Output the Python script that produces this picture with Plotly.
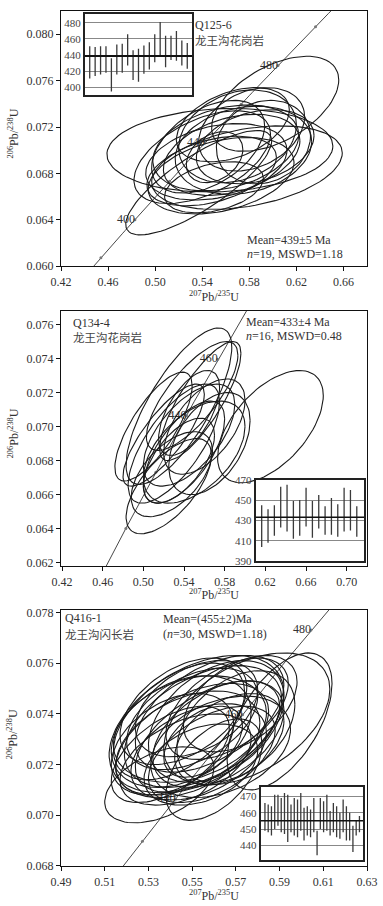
import numpy as np
import plotly.graph_objects as go

#-------------------------------------------------------------------------------------------
# decay constants used for the concordia curve
L238 = 1.55125e-10
L235 = 9.8485e-10

SERIF = "Liberation Serif"
CJK = "Noto Sans CJK SC"

#-------------------------------------------------------------------------------------------
# Q125-6 (panel 1): ellipse centres, half widths, error correlation
q125_x = [0.537, 0.555, 0.578, 0.602, 0.560, 0.565, 0.552, 0.548, 0.570, 0.582,
          0.556, 0.575, 0.545, 0.550, 0.585, 0.566, 0.592, 0.540, 0.5505]
q125_y = [0.0672, 0.0700, 0.0685, 0.0740, 0.0702, 0.0696, 0.0690, 0.0682, 0.0712, 0.0718,
          0.0678, 0.0700, 0.0703, 0.0668, 0.0703, 0.0722, 0.0707, 0.0694, 0.0694]
q125_sx = [0.062, 0.096, 0.081, 0.054, 0.062, 0.058, 0.060, 0.055, 0.050, 0.045,
           0.062, 0.058, 0.048, 0.042, 0.050, 0.048, 0.040, 0.058, 0.024]
q125_sy = [0.0045, 0.0036, 0.0036, 0.0041, 0.0037, 0.0035, 0.0033, 0.0030, 0.0040, 0.0036,
           0.0033, 0.0038, 0.0040, 0.0022, 0.0032, 0.0032, 0.0036, 0.0040, 0.0022]
q125_rho = [0.80, 0.10, 0.35, 0.50, 0.30, 0.35, 0.30, 0.40, 0.25, 0.30,
            0.35, 0.20, 0.45, 0.35, 0.30, 0.40, 0.15, 0.50, 0.30]
# weighted mean inset: age error bars (Ma)
q125_lo = [411, 414, 416, 418, 395, 416, 418, 427, 409, 407,
           417, 422, 431, 440, 425, 434, 433, 427, 423]
q125_hi = [451, 450, 451, 451, 436, 453, 454, 466, 446, 448,
           452, 456, 466, 481, 464, 464, 470, 458, 455]
q125_mean = 439
q125_grid = [400, 420, 440, 460, 480]
q125_ages = [380, 400, 420, 440, 460, 480, 500]
q125_labels = [400, 440, 480]

#-------------------------------------------------------------------------------------------
# Q134-4 (panel 2)
q134_x = [0.535, 0.548, 0.556, 0.625, 0.525, 0.530, 0.540, 0.520, 0.545, 0.550,
          0.535, 0.510, 0.560, 0.528, 0.545, 0.565]
q134_y = [0.0712, 0.0718, 0.0715, 0.0700, 0.0665, 0.0690, 0.0685, 0.0695, 0.0695, 0.0685,
          0.0680, 0.0700, 0.0700, 0.0672, 0.0708, 0.0690]
q134_sx = [0.052, 0.045, 0.040, 0.052, 0.042, 0.045, 0.040, 0.040, 0.045, 0.050,
           0.035, 0.038, 0.040, 0.040, 0.030, 0.040]
q134_sy = [0.0046, 0.0032, 0.0035, 0.0033, 0.0028, 0.0035, 0.0030, 0.0030, 0.0030, 0.0030,
           0.0025, 0.0032, 0.0028, 0.0025, 0.0025, 0.0030]
q134_rho = [0.75, 0.75, 0.80, 0.55, 0.65, 0.70, 0.65, 0.80, 0.60, 0.50,
            0.60, 0.75, 0.55, 0.55, 0.60, 0.45]
q134_lo = [404, 408, 415, 423, 419, 412, 415, 424, 413, 422, 416, 416, 414, 419, 420, 414]
q134_hi = [445, 441, 445, 463, 465, 449, 450, 462, 449, 455, 444, 452, 446, 462, 460, 444]
q134_mean = 433
q134_grid = [410, 430, 450]
q134_ages = [400, 420, 440, 460, 480]
q134_labels = [440, 460]

#-------------------------------------------------------------------------------------------
# Q416-1 (panel 3)
q416_x = [0.552, 0.575, 0.590, 0.535, 0.560, 0.550, 0.555, 0.548, 0.558, 0.545,
          0.562, 0.553, 0.566, 0.541, 0.557, 0.550, 0.563, 0.547, 0.570, 0.552,
          0.544, 0.559, 0.567, 0.555, 0.549, 0.572, 0.540, 0.561, 0.554, 0.546]
q416_y = [0.0736, 0.0738, 0.0737, 0.0712, 0.0718, 0.0730, 0.0735, 0.0728, 0.0740, 0.0733,
          0.0732, 0.0725, 0.0742, 0.0728, 0.0731, 0.0738, 0.0727, 0.0722, 0.0735, 0.0742,
          0.0737, 0.0724, 0.0730, 0.0729, 0.0734, 0.0744, 0.0724, 0.0737, 0.0720, 0.0741]
q416_sx = [0.040, 0.038, 0.024, 0.025, 0.022, 0.035, 0.036, 0.033, 0.034, 0.032,
           0.030, 0.031, 0.028, 0.028, 0.033, 0.030, 0.032, 0.030, 0.027, 0.028,
           0.030, 0.029, 0.025, 0.018, 0.035, 0.026, 0.027, 0.031, 0.026, 0.029]
q416_sy = [0.0027, 0.0026, 0.0027, 0.0015, 0.0020, 0.0022, 0.0024, 0.0021, 0.0023, 0.0022,
           0.0021, 0.0019, 0.0020, 0.0020, 0.0022, 0.0020, 0.0020, 0.0018, 0.0022, 0.0019,
           0.0023, 0.0019, 0.0018, 0.0014, 0.0021, 0.0019, 0.0019, 0.0024, 0.0016, 0.0021]
q416_rho = [0.45, 0.45, 0.55, 0.45, 0.50, 0.50, 0.45, 0.40, 0.50, 0.35,
            0.45, 0.40, 0.50, 0.40, 0.55, 0.45, 0.35, 0.45, 0.40, 0.40,
            0.50, 0.50, 0.40, 0.45, 0.30, 0.45, 0.55, 0.40, 0.35, 0.45]
q416_lo = [449, 448, 446, 450, 452, 448, 447, 442, 448, 446,
           445, 449, 443, 446, 445, 448, 434, 450, 448, 449,
           446, 448, 445, 444, 448, 443, 443, 436, 446, 448]
q416_hi = [466, 465, 464, 471, 471, 469, 472, 471, 465, 469,
           468, 472, 463, 464, 462, 469, 449, 469, 467, 471,
           461, 466, 464, 460, 468, 464, 460, 452, 455, 458]
q416_mean = 455
q416_grid = [440, 450, 460, 470]
q416_ages = [420, 430, 440, 450, 460, 470, 480, 490]
q416_labels = [440, 460, 480]

#-------------------------------------------------------------------------------------------
# page geometry (pixels)
W, H = 383, 906
ML, MR, MT, MB = 61, 14, 5, 40
PW = W - ML - MR
PH = H - MT - MB


def px(x):
	return (x - ML) / PW


def py(y):
	return (H - MB - y) / PH


def concordia(ages):
	t = np.array(ages, dtype=float) * 1e6
	return list(np.exp(L235 * t) - 1), list(np.exp(L238 * t) - 1)


def ellipses(cx, cy, sx, sy, rho):
	t = np.linspace(0, 2 * np.pi, 90)
	xs, ys = [], []
	for a, b, c, d, r in zip(cx, cy, sx, sy, rho):
		xs += list(a + c * np.cos(t)) + [None]
		ys += list(b + d * (r * np.cos(t) + np.sqrt(1 - r * r) * np.sin(t))) + [None]
	return xs, ys


def bars(lo, hi):
	xs, ys = [], []
	for i, (a, b) in enumerate(zip(lo, hi)):
		xs += [i + 1, i + 1, None]
		ys += [a, b, None]
	return xs, ys


fig = go.Figure()

panels = [
	(q125_x, q125_y, q125_sx, q125_sy, q125_rho, q125_ages, q125_labels, "x", "y"),
	(q134_x, q134_y, q134_sx, q134_sy, q134_rho, q134_ages, q134_labels, "x2", "y2"),
	(q416_x, q416_y, q416_sx, q416_sy, q416_rho, q416_ages, q416_labels, "x3", "y3"),
]
for cx, cy, sx, sy, rho, ages, labels, xa, ya in panels:
	curve_x, curve_y = concordia(np.linspace(300, 580, 200))
	fig.add_trace(go.Scatter(x=curve_x, y=curve_y, mode="lines", xaxis=xa, yaxis=ya,
		line=dict(color="#333", width=0.9), hoverinfo="skip"))
	tx, ty = concordia(ages)
	fig.add_trace(go.Scatter(x=tx, y=ty, mode="markers", xaxis=xa, yaxis=ya,
		marker=dict(size=3, color="#777")))
	lx, ly = concordia(labels)
	fig.add_trace(go.Scatter(x=lx, y=ly, mode="text", text=[str(a) for a in labels],
		textposition="middle left", xaxis=xa, yaxis=ya,
		textfont=dict(family=SERIF, size=12, color="#333")))
	ex, ey = ellipses(cx, cy, sx, sy, rho)
	fig.add_trace(go.Scatter(x=ex, y=ey, mode="lines", xaxis=xa, yaxis=ya,
		line=dict(color="#1a1a1a", width=1.1)))

insets = [(q125_lo, q125_hi, "x4", "y4"), (q134_lo, q134_hi, "x5", "y5"), (q416_lo, q416_hi, "x6", "y6")]
for lo, hi, xa, ya in insets:
	bx, by = bars(lo, hi)
	fig.add_trace(go.Scatter(x=bx, y=by, mode="lines", xaxis=xa, yaxis=ya,
		line=dict(color="#3a3a3a", width=1.3)))

tickfont = dict(family=SERIF, size=12, color="#333")
main = dict(showline=True, linecolor="#111", linewidth=1.3, mirror=True, ticks="outside",
	ticklen=4, tickwidth=1.1, tickcolor="#111", showgrid=False, zeroline=False, tickfont=tickfont)
inx = dict(showline=True, linecolor="#222", linewidth=2, mirror=True, ticks="",
	showticklabels=False, showgrid=False, zeroline=False)
iny = dict(showline=True, linecolor="#222", linewidth=2, mirror=True, ticks="",
	showgrid=True, gridcolor="#888", gridwidth=1, zeroline=False,
	tickfont=dict(family=SERIF, size=11, color="#444"))

fig.update_layout(
	width=W, height=H, margin=dict(l=ML, r=MR, t=MT, b=MB),
	showlegend=False, plot_bgcolor="white", paper_bgcolor="white",
	xaxis=dict(main, range=[0.42, 0.68], tickvals=[0.42, 0.46, 0.50, 0.54, 0.58, 0.62, 0.66],
		tickformat=".2f", domain=[px(61), px(369)], anchor="y"),
	yaxis=dict(main, range=[0.060, 0.082], tickvals=[0.060, 0.064, 0.068, 0.072, 0.076, 0.080],
		tickformat=".3f", domain=[py(262), py(5)], anchor="x"),
	xaxis2=dict(main, range=[0.419, 0.72], tickvals=[0.42, 0.46, 0.50, 0.54, 0.58, 0.62, 0.66, 0.70],
		tickformat=".2f", domain=[px(61), px(369)], anchor="y2"),
	yaxis2=dict(main, range=[0.0618, 0.0768], tickvals=[0.062, 0.064, 0.066, 0.068, 0.070, 0.072, 0.074, 0.076],
		tickformat=".3f", domain=[py(564), py(307)], anchor="x2"),
	xaxis3=dict(main, range=[0.49, 0.63], tickvals=[0.49, 0.51, 0.53, 0.55, 0.57, 0.59, 0.61, 0.63],
		tickformat=".2f", domain=[px(61), px(369)], anchor="y3"),
	yaxis3=dict(main, range=[0.068, 0.0781], tickvals=[0.068, 0.070, 0.072, 0.074, 0.076, 0.078],
		tickformat=".3f", domain=[py(866), py(608)], anchor="x3"),
	xaxis4=dict(inx, range=[0.1, 19.9], domain=[px(85), px(193)], anchor="y4"),
	yaxis4=dict(iny, range=[390, 491], tickvals=q125_grid, domain=[py(90), py(8)], anchor="x4"),
	xaxis5=dict(inx, range=[0.06, 17.14], domain=[px(257), px(366)], anchor="y5"),
	yaxis5=dict(iny, range=[390, 470], tickvals=[390, 410, 430, 450, 470], domain=[py(559), py(477)], anchor="x5"),
	xaxis6=dict(inx, range=[-0.3, 31.1], domain=[px(262), px(365)], anchor="y6"),
	yaxis6=dict(iny, range=[431, 476], tickvals=q416_grid, domain=[py(860), py(786)], anchor="x6"),
)

# weighted mean lines in the insets
for mean, xa, ya, w in [(q125_mean, "x4", "y4", 2), (q134_mean, "x5", "y5", 1.5), (q416_mean, "x6", "y6", 1.5)]:
	fig.add_shape(type="line", xref=xa + " domain", yref=ya, x0=0, x1=1, y0=mean, y1=mean,
		line=dict(color="#111", width=w))


def note(text, x, y, family=SERIF, size=12, anchor="left", angle=0, color="#333"):
	fig.add_annotation(text=text, x=px(x), y=py(y), xref="paper", yref="paper",
		xanchor=anchor, yanchor="middle", showarrow=False, textangle=angle, borderpad=0,
		font=dict(family=family, size=size, color=color))


xt = "<sup>207</sup>Pb/<sup>235</sup>U"
yt = "<sup>206</sup>Pb/<sup>238</sup>U"
for ty_ in [292, 593, 896]:
	note(xt, 215, ty_, anchor="center")
for ty_ in [128, 430, 733]:
	note(yt, 13, ty_, anchor="center", angle=-90)

note("Q125-6", 195, 19)
note("龙王沟花岗岩", 195, 34, family=CJK, size=11.5, color="#444")
note("Mean=439±5 Ma", 247, 236)
note("<i>n</i>=19, MSWD=1.18", 247, 250)

note("Q134-4", 72, 319)
note("龙王沟花岗岩", 72, 333, family=CJK, size=11.5, color="#444")
note("Mean=433±4 Ma", 246, 318)
note("<i>n</i>=16, MSWD=0.48", 246, 332)

note("Q416-1", 64, 616)
note("龙王沟闪长岩", 64, 632, family=CJK, size=11.5, color="#444")
note("Mean=(455±2)Ma", 163, 617)
note("(<i>n</i>=30, MSWD=1.18)", 163, 632)

# the page body has a default 8px margin; drop it so the figure sits at the corner
fig.write_html("out.html", config={"displayModeBar": False},
	post_script="document.body.style.margin='0px';")
